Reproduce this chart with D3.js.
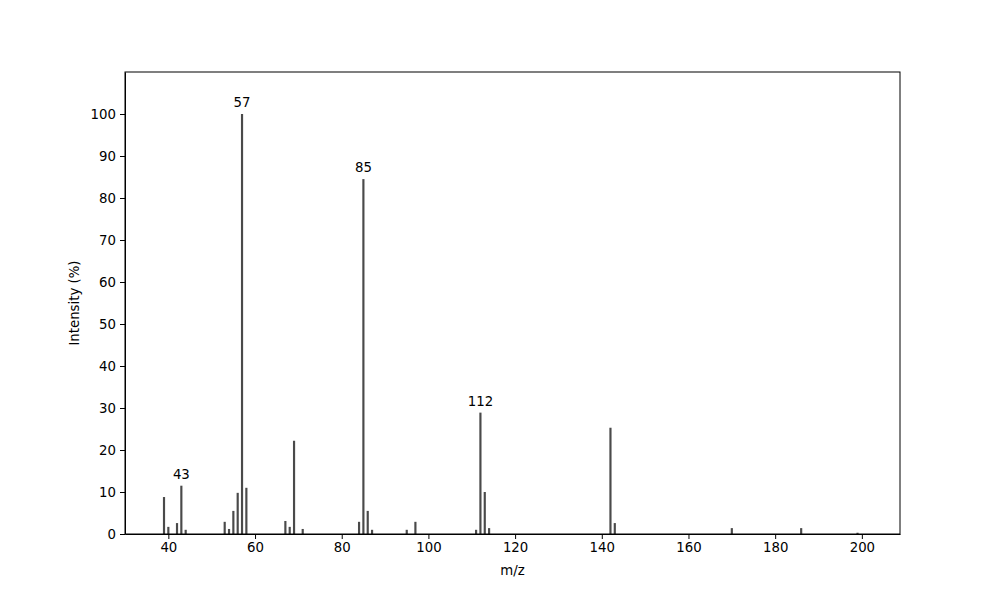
<!DOCTYPE html>
<html>
  <head>
    <title>Mass Spectrum</title>
    <script src="https://d3js.org/d3.v7.min.js"></script>
    <style>
      body {
        margin: 0;
        background: #fff;
      }
      text {
        font-family: "DejaVu Sans", sans-serif;
        font-size: 13.3px;
        fill: #000;
      }
      .axis path,
      .axis line {
        stroke: #000;
        stroke-width: 1px;
      }
      .bar {
        fill: #4a4a4a;
      }
    </style>
  </head>
  <body>
    <div id="chart"></div>

    <script>
      // peaks
      const mzValues = [39, 40, 42, 43, 44, 53, 54, 55, 56, 57, 58, 67, 68, 69, 71,
        84, 85, 86, 87, 95, 97, 111, 112, 113, 114, 142, 143, 170, 186, 199];
      const intensities = [8.8, 1.7, 2.6, 11.5, 1.0, 2.9, 1.2, 5.5, 9.8, 100, 11.0, 3.1, 1.7, 22.2, 1.2,
        2.9, 84.5, 5.5, 1.0, 1.0, 2.9, 1.0, 28.9, 10.0, 1.4, 25.3, 2.6, 1.4, 1.4, 0.3];
      const labelledPeaks = [43, 57, 85, 112];
      const xTicks = [40, 60, 80, 100, 120, 140, 160, 180, 200];
      const yTicks = [0, 10, 20, 30, 40, 50, 60, 70, 80, 90, 100];

      const peaks = mzValues.map((mz, i) => ({ mz: mz, value: intensities[i] }));

      // Set up dimensions
      const margin = { top: 72, right: 100, bottom: 66, left: 125 };
      const width = 1000 - margin.left - margin.right;
      const height = 600 - margin.top - margin.bottom;

      const svg = d3
        .select("#chart")
        .append("svg")
        .attr("width", 1000)
        .attr("height", 600)
        .append("g")
        .attr("transform", `translate(${margin.left},${margin.top})`);

      const x = d3.scaleLinear().domain([30, 208.8]).range([0, width]);
      const y = d3.scaleLinear().domain([0, 110]).range([height, 0]);

      const barW = x(30.5) - x(30);

      // Bars
      svg
        .selectAll(".bar")
        .data(peaks)
        .enter()
        .append("rect")
        .attr("class", "bar")
        .attr("x", (d) => x(d.mz) - barW / 2)
        .attr("y", (d) => y(d.value))
        .attr("width", barW)
        .attr("height", (d) => y(0) - y(d.value));

      // Peak labels
      svg
        .selectAll(".peak-label")
        .data(peaks.filter((d) => labelledPeaks.includes(d.mz)))
        .enter()
        .append("text")
        .attr("class", "peak-label")
        .attr("x", (d) => x(d.mz))
        .attr("y", (d) => y(d.value) - 7)
        .attr("text-anchor", "middle")
        .text((d) => d.mz);

      // Axes
      svg
        .append("g")
        .attr("class", "axis")
        .attr("transform", `translate(0,${height})`)
        .call(d3.axisBottom(x).tickValues(xTicks).tickSizeInner(5).tickSizeOuter(0).tickPadding(4))
        .call((g) => g.selectAll("text").style("font-size", "13.3px").style("font-family", "DejaVu Sans"));

      svg
        .append("g")
        .attr("class", "axis")
        .call(d3.axisLeft(y).tickValues(yTicks).tickSizeInner(5).tickSizeOuter(0).tickPadding(4))
        .call((g) => g.selectAll("text").style("font-size", "13.3px").style("font-family", "DejaVu Sans"));

      // frame top and right
      svg
        .append("rect")
        .attr("width", width)
        .attr("height", height)
        .attr("fill", "none")
        .attr("stroke", "#000")
        .attr("stroke-width", 1);

      // Axis labels
      svg
        .append("text")
        .attr("x", width / 2)
        .attr("y", height + 41)
        .attr("text-anchor", "middle")
        .text("m/z");

      svg
        .append("text")
        .attr("transform", `translate(${-46},${height / 2}) rotate(-90)`)
        .attr("text-anchor", "middle")
        .text("Intensity (%)");
    </script>
  </body>
</html>
